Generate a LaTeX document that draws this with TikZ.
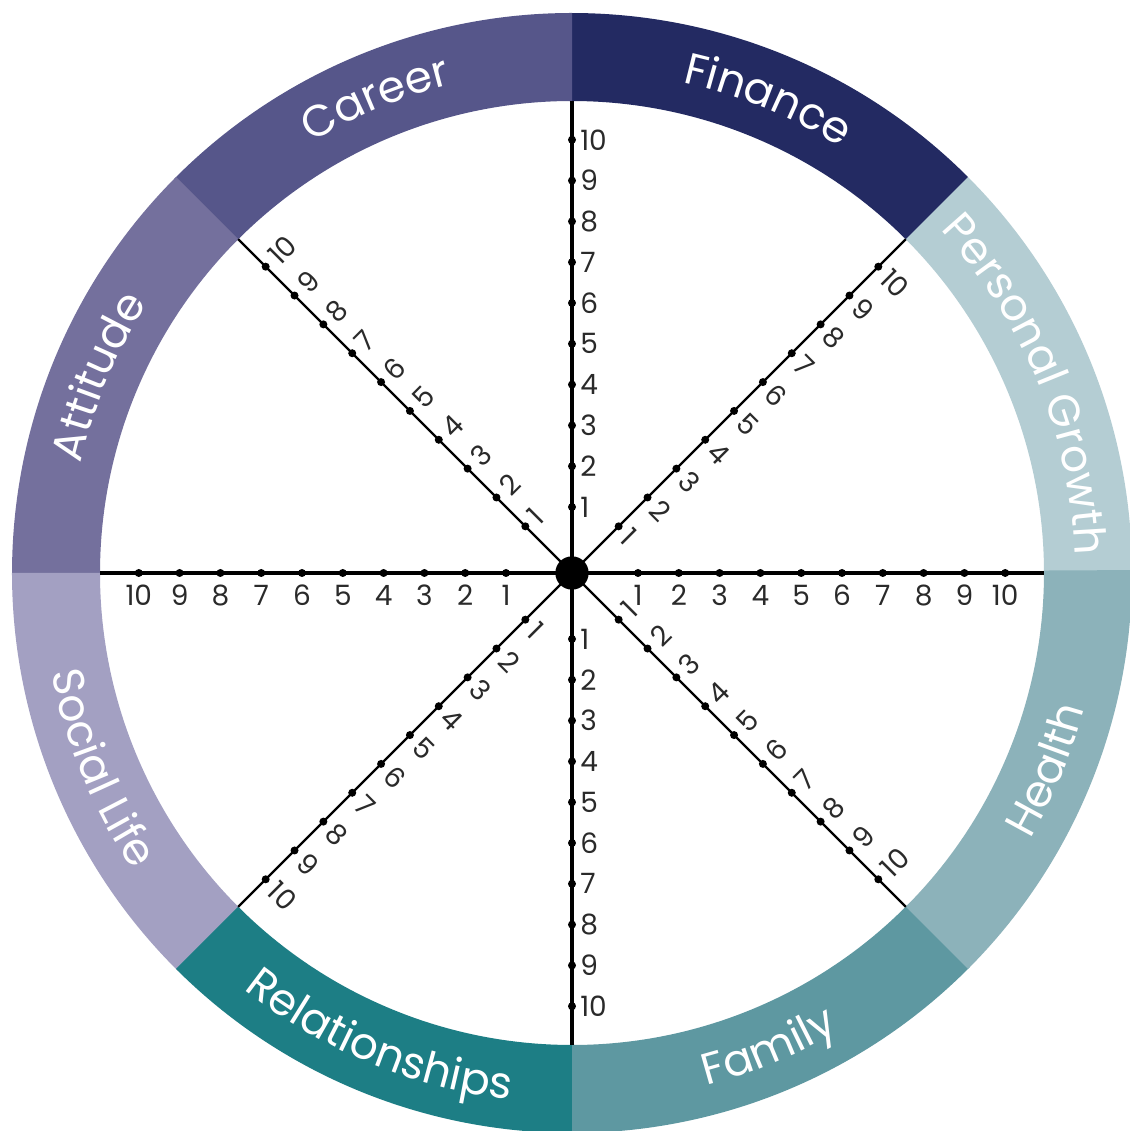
\documentclass[tikz,border=0pt]{standalone}
\usepackage{fontspec}
\setmainfont{Poppins}
\usetikzlibrary{decorations.text}
\definecolor{cPG}{HTML}{B4CDD3}
\definecolor{cFin}{HTML}{232A62}
\definecolor{cCar}{HTML}{56568A}
\definecolor{cAtt}{HTML}{74709D}
\definecolor{cSoc}{HTML}{A3A0C2}
\definecolor{cRel}{HTML}{1D7E85}
\definecolor{cFam}{HTML}{5E98A1}
\definecolor{cHea}{HTML}{8CB2BA}
\definecolor{numcol}{HTML}{2A2A2A}
\newcommand\segfont{\fontsize{33}{33}\selectfont}
\begin{document}
\begin{tikzpicture}[x=0.75pt,y=0.75pt,
  spoke/.style={line width=2.3pt, black},
  diag/.style={line width=1.6pt, black},
  tickdot/.style={circle, fill=black, inner sep=0pt, minimum size=6pt},
  numlab/.style={inner sep=0pt, text=numcol, font=\fontsize{21}{21}\selectfont},
  segtitle/.style={decorate, decoration={text along path, text align=center, text color=white}},
]
\useasboundingbox (-572,-558) rectangle (557,573);
\fill[white] (-572,-558) rectangle (557,573);
% ring segments
\foreach \s/\col in {0/cPG,45/cFin,90/cCar,135/cAtt,180/cSoc,225/cRel,270/cFam,315/cHea}{
  \fill[\col] (\s:472) -- (\s:560) arc[start angle=\s, end angle=\s+45.3, radius=560]
    -- ({\s+45.3}:472) arc[start angle=\s+45.3, end angle=\s, radius=472] -- cycle;
}
% titles (top half: clockwise, bottom half: counterclockwise)
\path[segtitle, decoration={text={|\segfont|Personal Growth}}] (82.5:503) arc[start angle=82.5, end angle=-37.5, radius=503];
\path[segtitle, decoration={text={|\segfont|Finance}}] (127.5:503) arc[start angle=127.5, end angle=7.5, radius=503];
\path[segtitle, decoration={text={|\segfont|Career}}] (172.5:503) arc[start angle=172.5, end angle=52.5, radius=503];
\path[segtitle, decoration={text={|\segfont|Attitude}}] (217.5:503) arc[start angle=217.5, end angle=97.5, radius=503];
\path[segtitle, decoration={text={|\segfont|Health}}] (-82.5:530) arc[start angle=-82.5, end angle=37.5, radius=530];
\path[segtitle, decoration={text={|\segfont|Family}}] (-127.5:530) arc[start angle=-127.5, end angle=-7.5, radius=530];
\path[segtitle, decoration={text={|\segfont|Relationships}}] (-172.5:530) arc[start angle=-172.5, end angle=-52.5, radius=530];
\path[segtitle, decoration={text={|\segfont|Social Life}}] (-217.5:530) arc[start angle=-217.5, end angle=-97.5, radius=530];
% spokes
\coordinate (o) at (0,0);
\foreach \a in {0,45,...,315}{ \coordinate (e\a) at (\a:472); }
\foreach \a in {0,90,180,270}{ \draw[spoke] (o) -- (e\a); }
\foreach \a in {45,135,225,315}{ \draw[diag] (o) -- (e\a); }
\node[circle, fill=black, inner sep=0pt, minimum size=25pt] (c) at (o) {};
% tick dots
\foreach \a in {0,45,...,315}{
  \foreach \k in {1,...,10}{
    \node[tickdot] (d\a-\k) at (\a:{25.2+40.8*\k}) {};
  }
}
% labels
\foreach \k in {1,...,10}{
  \node[numlab, anchor=north] (l0-\k) at ([yshift=-9pt]d0-\k.center) {\k};
  \node[numlab, anchor=north] (l180-\k) at ([yshift=-9pt]d180-\k.center) {\k};
  \node[numlab, anchor=west] (l90-\k) at ([xshift=6pt]d90-\k.center) {\k};
  \node[numlab, anchor=west] (l270-\k) at ([xshift=6pt]d270-\k.center) {\k};
  \node[numlab, rotate=-45, anchor=west] (l45-\k) at ([shift={(-45:10)}]d45-\k.center) {\k};
  \node[numlab, rotate=-45, anchor=west] (l225-\k) at ([shift={(-45:10)}]d225-\k.center) {\k};
  \node[numlab, rotate=45, anchor=west] (l135-\k) at ([shift={(45:10)}]d135-\k.center) {\k};
  \node[numlab, rotate=45, anchor=west] (l315-\k) at ([shift={(45:10)}]d315-\k.center) {\k};
}
\end{tikzpicture}
\end{document}
